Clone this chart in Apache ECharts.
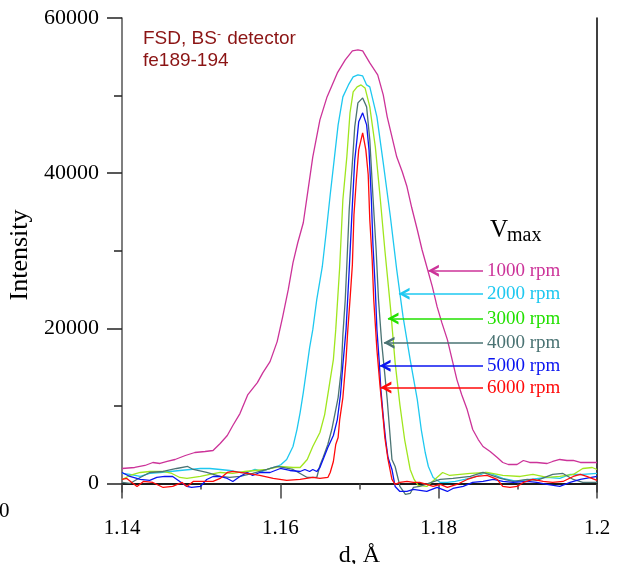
<!DOCTYPE html>
<html>
<head>
<meta charset="utf-8">
<script src="https://cdn.jsdelivr.net/npm/echarts@6/dist/echarts.min.js"></script>
<style>
  html, body { margin: 0; padding: 0; background: #fff; }
  #chart { width: 625px; height: 564px; }
</style>
</head>
<body>
<div id="chart"></div>
<script>
// d (Å) vs intensity, one curve per Vmax
const rpm1000 = [[1.1400,1931],[1.1416,2060],[1.1429,2318],[1.1439,2704],[1.1448,2575],[1.1457,2833],[1.1467,3090],[1.1480,3605],[1.1492,3992],[1.1505,4120],[1.1515,4249],[1.1524,5150],[1.1533,6180],[1.1540,7468],[1.1549,9013],[1.1559,11460],[1.1571,13005],[1.1578,14292],[1.1587,15709],[1.1596,18284],[1.1603,21503],[1.1610,24979],[1.1616,28456],[1.1622,31031],[1.1629,33606],[1.1635,37855],[1.1641,42104],[1.1650,46869],[1.1659,49830],[1.1672,52920],[1.1682,54594],[1.1691,55753],[1.1698,55882],[1.1704,55753],[1.1713,54208],[1.1723,52663],[1.1730,50088],[1.1735,47255],[1.1741,44680],[1.1747,42104],[1.1754,40173],[1.1760,38242],[1.1766,35538],[1.1773,32705],[1.1779,30130],[1.1785,27941],[1.1792,25366],[1.1798,22791],[1.1804,20730],[1.1811,18541],[1.1817,15966],[1.1823,13391],[1.1829,11460],[1.1836,9528],[1.1843,6953],[1.1850,5665],[1.1856,4764],[1.1865,4120],[1.1874,3348],[1.1881,2704],[1.1888,2446],[1.1899,2446],[1.1907,2961],[1.1915,2704],[1.1924,2704],[1.1937,2575],[1.1944,2833],[1.1953,3090],[1.1962,2961],[1.1970,2961],[1.1979,2704],[1.1991,2704],[1.2000,2704]];
const rpm2000 = [[1.1400,1288],[1.1410,1159],[1.1423,901],[1.1435,1288],[1.1448,1416],[1.1461,1545],[1.1473,1674],[1.1486,1803],[1.1499,1931],[1.1511,1931],[1.1524,1803],[1.1536,1674],[1.1549,1416],[1.1558,1416],[1.1568,1803],[1.1577,1545],[1.1587,1931],[1.1596,2189],[1.1601,2446],[1.1608,3090],[1.1616,4764],[1.1621,6953],[1.1625,9142],[1.1629,11717],[1.1634,15322],[1.1637,17511],[1.1641,19829],[1.1646,23692],[1.1653,27941],[1.1658,32448],[1.1663,37212],[1.1668,41718],[1.1673,46225],[1.1679,49830],[1.1686,51375],[1.1692,52405],[1.1698,52663],[1.1704,52534],[1.1709,51375],[1.1713,51117],[1.1722,47255],[1.1730,41332],[1.1739,34379],[1.1747,27555],[1.1755,21503],[1.1764,15966],[1.1773,10800],[1.1778,6953],[1.1783,3992],[1.1787,2189],[1.1793,773],[1.1802,129],[1.1811,129],[1.1821,258],[1.1833,515],[1.1848,901],[1.1859,1416],[1.1869,1159],[1.1881,644],[1.1899,258],[1.1915,515],[1.1937,773],[1.1953,644],[1.1966,1159],[1.1982,1159],[1.2000,1288]];
const rpm3000 = [[1.1400,515],[1.1410,1030],[1.1423,1416],[1.1435,1545],[1.1452,1545],[1.1463,1288],[1.1473,773],[1.1482,644],[1.1499,901],[1.1511,1159],[1.1524,1416],[1.1540,1288],[1.1555,1545],[1.1568,1674],[1.1583,1803],[1.1600,2189],[1.1616,2060],[1.1625,2060],[1.1634,3090],[1.1641,4764],[1.1650,6567],[1.1656,8884],[1.1661,12103],[1.1667,15966],[1.1670,19829],[1.1675,27941],[1.1679,36568],[1.1684,42104],[1.1688,47770],[1.1692,50474],[1.1697,51117],[1.1702,51375],[1.1707,50989],[1.1713,48543],[1.1720,43392],[1.1726,36954],[1.1732,30130],[1.1739,22791],[1.1745,15580],[1.1751,10172],[1.1757,5665],[1.1764,1803],[1.1769,515],[1.1774,-258],[1.1785,-386],[1.1795,515],[1.1805,1416],[1.1814,1030],[1.1827,1159],[1.1840,1288],[1.1861,1416],[1.1881,1030],[1.1903,901],[1.1919,1159],[1.1937,773],[1.1953,901],[1.1970,1159],[1.1982,1931],[1.1994,2060],[1.2000,1803]];
const rpm4000 = [[1.1400,129],[1.1410,0],[1.1423,773],[1.1435,1416],[1.1452,1545],[1.1469,1931],[1.1483,2189],[1.1490,1803],[1.1507,1416],[1.1524,901],[1.1536,773],[1.1549,901],[1.1565,1288],[1.1583,1803],[1.1596,2189],[1.1616,1803],[1.1625,1288],[1.1634,773],[1.1646,773],[1.1650,2318],[1.1654,3348],[1.1660,5022],[1.1665,6953],[1.1670,9528],[1.1673,11073],[1.1677,14679],[1.1679,19185],[1.1682,23692],[1.1684,28198],[1.1687,35280],[1.1691,41332],[1.1694,45967],[1.1698,49057],[1.1704,49701],[1.1709,48543],[1.1713,44293],[1.1717,36954],[1.1721,30130],[1.1724,23692],[1.1728,18155],[1.1732,14035],[1.1735,10816],[1.1739,5665],[1.1741,3090],[1.1745,2189],[1.1749,515],[1.1751,-386],[1.1758,-1416],[1.1764,-1288],[1.1768,-515],[1.1776,-386],[1.1802,515],[1.1818,644],[1.1840,901],[1.1856,1416],[1.1878,644],[1.1894,258],[1.1912,515],[1.1924,386],[1.1944,1159],[1.1957,1288],[1.1970,515],[1.1982,129],[1.2000,129]];
const rpm5000 = [[1.1400,1416],[1.1410,901],[1.1423,515],[1.1435,386],[1.1444,773],[1.1454,901],[1.1464,901],[1.1473,258],[1.1482,-386],[1.1488,-515],[1.1499,-386],[1.1507,515],[1.1515,901],[1.1524,901],[1.1533,644],[1.1540,258],[1.1549,901],[1.1558,1416],[1.1565,1030],[1.1574,1416],[1.1587,1416],[1.1600,1931],[1.1612,1674],[1.1625,1545],[1.1631,1803],[1.1637,1545],[1.1641,1803],[1.1646,1545],[1.1650,2060],[1.1655,3348],[1.1660,4635],[1.1667,6180],[1.1672,8241],[1.1676,11460],[1.1679,15322],[1.1683,19829],[1.1687,27555],[1.1691,35924],[1.1694,41718],[1.1697,44551],[1.1699,46612],[1.1704,47770],[1.1709,46225],[1.1712,43006],[1.1715,36568],[1.1717,30774],[1.1720,24979],[1.1722,19829],[1.1725,15580],[1.1727,12103],[1.1730,8627],[1.1733,5665],[1.1736,3348],[1.1741,1803],[1.1745,-386],[1.1751,-1030],[1.1760,-1030],[1.1768,-773],[1.1785,-1030],[1.1798,-515],[1.1811,-1030],[1.1818,-644],[1.1831,-386],[1.1843,129],[1.1856,258],[1.1869,515],[1.1881,258],[1.1894,129],[1.1912,258],[1.1924,129],[1.1937,-129],[1.1953,-386],[1.1966,129],[1.1979,515],[1.2000,901]];
const rpm6000 = [[1.1400,515],[1.1406,644],[1.1419,-386],[1.1427,258],[1.1439,129],[1.1452,-515],[1.1464,-386],[1.1476,129],[1.1482,-386],[1.1490,258],[1.1499,258],[1.1515,258],[1.1524,644],[1.1533,1416],[1.1540,1545],[1.1558,1288],[1.1574,1030],[1.1591,644],[1.1608,386],[1.1625,515],[1.1641,773],[1.1650,644],[1.1660,773],[1.1663,1416],[1.1667,2833],[1.1670,5022],[1.1673,5923],[1.1675,8241],[1.1679,11073],[1.1683,15966],[1.1685,19443],[1.1688,23692],[1.1691,28198],[1.1693,34636],[1.1696,39143],[1.1699,43006],[1.1704,45195],[1.1708,43006],[1.1711,39787],[1.1713,33992],[1.1716,28842],[1.1718,23692],[1.1722,17254],[1.1726,12490],[1.1730,8241],[1.1732,5923],[1.1736,3090],[1.1739,1545],[1.1741,515],[1.1745,-129],[1.1751,129],[1.1760,258],[1.1768,129],[1.1776,129],[1.1785,-129],[1.1793,-386],[1.1802,-129],[1.1811,-515],[1.1823,-129],[1.1836,515],[1.1848,901],[1.1861,1030],[1.1874,515],[1.1881,-386],[1.1890,-515],[1.1899,-386],[1.1907,129],[1.1919,515],[1.1932,258],[1.1944,129],[1.1957,258],[1.1970,901],[1.1979,1159],[1.1987,901],[1.2000,386]];

const curveNames = ['1000 rpm', '2000 rpm', '3000 rpm', '4000 rpm', '5000 rpm', '6000 rpm'];
// where each legend arrow touches its curve [d, intensity]
const arrowTips = [[1.1787, 27430], [1.1750, 24460], [1.1736, 21250], [1.1731, 18150], [1.1726, 15190], [1.1727, 12360]];
const arrowTail = 1.1856;

const xTicks = [1.14, 1.16, 1.18, 1.2];
const xMinorTicks = [1.15, 1.17, 1.19];
const yTicks = [0, 20000, 40000, 60000];
const yMinorTicks = [10000, 30000, 50000];

const curveColors = ['#cc3399', '#1ec8f0', '#a0e61e', '#4a7373', '#0a14f0', '#ff0a0a'];
const arrowColors = ['#cc3399', '#1ec8f0', '#22e000', '#4a7373', '#0a14f0', '#ff0a0a'];

const serif = '"Liberation Serif", "DejaVu Serif", serif';
const Y_MIN = -1100, Y_MAX = 60000, X_MIN = 1.14, X_MAX = 1.2;
// open arrow head, drawn pointing up, rotated by markLine
const chevron = 'path://M0,10 L5,0 L10,10 L7.6,10 L5,4.6 L2.4,10 Z';

const chart = echarts.init(document.getElementById('chart'));

const allData = [rpm1000, rpm2000, rpm3000, rpm4000, rpm5000, rpm6000];

const series = allData.map((data, i) => ({
    name: curveNames[i],
    type: 'line',
    data: data,
    showSymbol: false,
    clip: false,
    xAxisIndex: 0,
    yAxisIndex: 0,
    lineStyle: { color: curveColors[i], width: 1.3 },
    itemStyle: { color: curveColors[i] },
    markLine: {
        silent: true,
        symbol: [chevron, 'none'],
        symbolSize: [12, 11],
        symbolOffset: [[0, 5], 0],
        lineStyle: { color: arrowColors[i], width: 1.5, type: 'solid' },
        label: {
            show: true,
            position: 'end',
            distance: 4,
            formatter: curveNames[i],
            color: arrowColors[i],
            fontFamily: serif,
            fontSize: 19
        },
        data: [[
            { coord: arrowTips[i] },
            { coord: [arrowTail, arrowTips[i][1]] }
        ]]
    }
}));

chart.setOption({
    animation: false,
    backgroundColor: '#fff',
    grid: { left: 122, top: 18, right: 28, bottom: 72, containLabel: false, outerBoundsMode: 'none' },
    xAxis: [{
        type: 'value',
        min: X_MIN, max: X_MAX,
        name: 'd, Å',
        nameLocation: 'middle',
        nameGap: 30,
        nameTextStyle: { fontFamily: serif, fontSize: 24, color: '#000' },
        axisLine: { show: true, lineStyle: { color: '#444', width: 1.5 } },
        axisTick: { show: true, inside: false, length: 15, customValues: xTicks, lineStyle: { color: '#444', width: 1.5 } },
        axisLabel: { customValues: xTicks, margin: 26, fontFamily: serif, fontSize: 21, color: '#000', formatter: v => String(v) },
        splitLine: { show: false }
    }, {
        type: 'value',
        min: X_MIN, max: X_MAX,
        position: 'bottom',
        axisLine: { show: false },
        axisTick: { show: true, inside: false, length: 6, customValues: xMinorTicks, lineStyle: { color: '#444', width: 1.5 } },
        axisLabel: { show: false },
        splitLine: { show: false }
    }, {
        type: 'value',
        min: X_MIN, max: X_MAX,
        position: 'top',
        axisLine: { show: true, lineStyle: { color: '#000', width: 1.5 } },
        axisTick: { show: false },
        axisLabel: { show: false },
        splitLine: { show: false }
    }],
    yAxis: [{
        type: 'value',
        min: Y_MIN, max: Y_MAX,
        name: 'Intensity',
        nameLocation: 'middle',
        nameGap: 80,
        nameRotate: 90,
        nameTextStyle: { fontFamily: serif, fontSize: 26, color: '#000' },
        axisLine: { show: true, lineStyle: { color: '#555', width: 1.5 } },
        axisTick: { show: true, inside: false, length: 15, customValues: yTicks, lineStyle: { color: '#222', width: 1.5 } },
        axisLabel: { customValues: yTicks, margin: 23, fontFamily: serif, fontSize: 22, color: '#000', formatter: v => String(v) },
        splitLine: { show: false }
    }, {
        type: 'value',
        min: Y_MIN, max: Y_MAX,
        position: 'left',
        axisLine: { show: false },
        axisTick: { show: true, inside: false, length: 8, customValues: yMinorTicks, lineStyle: { color: '#222', width: 1.5 } },
        axisLabel: { show: false },
        splitLine: { show: false }
    }, {
        type: 'value',
        min: Y_MIN, max: Y_MAX,
        position: 'right',
        axisLine: { show: true, lineStyle: { color: '#000', width: 1.5 } },
        axisTick: { show: false },
        axisLabel: { show: false },
        splitLine: { show: false }
    }],
    graphic: [{
        type: 'text',
        left: 143, top: 28,
        style: {
            text: 'FSD, BS{sup|-} detector\nfe189-194',
            font: '19px "Liberation Sans", Arial, sans-serif',
            fill: '#8b1414',
            lineHeight: 22,
            rich: {
                sup: { fontSize: 12, fill: '#8b1414', fontFamily: '"Liberation Sans", Arial, sans-serif', padding: [0, 1, 9, 0] }
            }
        }
    }, {
        type: 'text',
        left: 490, top: 218,
        style: { text: 'V', font: '25px "Liberation Serif", serif', fill: '#000' }
    }, {
        type: 'text',
        left: 507, top: 226,
        style: { text: 'max', font: '20px "Liberation Serif", serif', fill: '#000' }
    }, {
        type: 'text',
        left: -1, top: 501,
        style: { text: '0', font: '21px "Liberation Serif", serif', fill: '#000' }
    }],
    series: series
});
</script>
</body>
</html>
